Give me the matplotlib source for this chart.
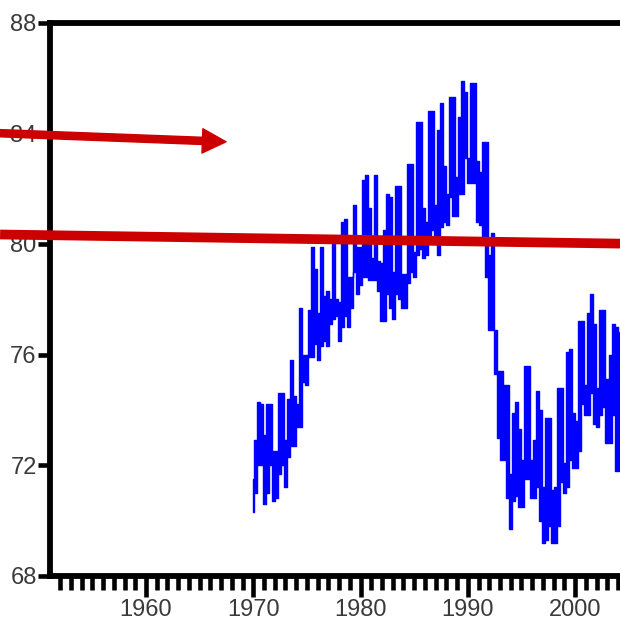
import numpy as np
import matplotlib.pyplot as plt

# level readings, one column every ~0.28 yr starting late 1969
t_start = 1969.93
t_step = 0.28

level_hi = [
    71.5, 72.9, 74.3, 74.2, 73.1, 74.2, 74.2, 72.5, 72.5, 74.6, 74.6, 72.9,
    74.4, 75.8, 74.5, 74.2, 77.7, 76.0, 76.0, 77.6, 79.9, 79.1, 77.5, 79.9,
    78.1, 78.3, 78.0, 80.1, 78.0, 77.9, 80.8, 80.9, 78.8, 78.8, 81.4, 79.9,
    79.9, 82.3, 82.5, 81.3, 79.5, 82.5, 79.4, 79.3, 80.5, 81.8, 81.7, 79.0,
    82.1, 82.1, 78.9, 78.9, 82.9, 82.9, 79.7, 84.4, 84.4, 81.3, 80.8, 84.8,
    84.8, 81.4, 84.1, 85.1, 82.8, 81.8, 85.3, 85.3, 82.4, 84.6, 85.9, 85.5,
    83.1, 85.8, 85.8, 83.0, 82.6, 83.7, 83.7, 79.6, 80.4, 76.9, 75.4, 75.4,
    74.9, 74.9, 71.7, 73.9, 74.3, 73.3, 72.2, 75.6, 75.6, 72.2, 72.9, 74.7,
    74.0, 71.2, 73.7, 73.7, 71.1, 71.2, 74.8, 74.8, 72.1, 76.1, 76.2, 73.9,
    73.6, 77.2, 77.2, 74.9, 77.5, 78.2, 77.1, 74.8, 77.6, 77.6, 75.1, 76.0,
    77.1, 77.0, 76.8,
]
level_lo = [
    70.3, 71.0, 72.0, 72.0, 70.6, 71.0, 72.0, 70.7, 70.8, 71.7, 72.0, 71.2,
    72.3, 72.7, 72.7, 73.4, 73.4, 75.0, 74.9, 75.9, 75.9, 76.4, 75.8, 76.3,
    76.5, 76.3, 77.1, 77.3, 77.4, 76.5, 77.0, 77.4, 77.0, 77.7, 79.0, 78.2,
    78.5, 78.8, 78.8, 78.7, 78.7, 78.7, 78.3, 77.2, 77.2, 78.2, 77.7, 77.3,
    78.2, 78.0, 77.7, 77.7, 78.6, 79.0, 78.8, 79.6, 79.8, 79.5, 79.6, 80.3,
    80.5, 80.1, 79.6, 80.6, 80.8, 80.7, 81.7, 81.0, 81.0, 81.8, 81.8, 83.1,
    82.2, 82.2, 82.2, 80.8, 80.7, 80.3, 78.8, 76.9, 76.9, 75.3, 73.0, 72.2,
    72.2, 70.8, 69.7, 70.7, 70.9, 70.5, 70.5, 71.5, 71.5, 70.8, 70.8, 71.2,
    70.0, 69.2, 69.3, 69.8, 69.2, 69.2, 69.8, 71.4, 71.0, 71.2, 72.2, 71.9,
    71.9, 72.5, 74.2, 73.8, 73.8, 74.6, 73.5, 73.4, 73.8, 74.1, 72.8, 72.8,
    73.8, 71.8, 71.8,
]

# hand-drawn red trend line and arrow (start/end points)
trend_x = [1946.4, 2006.0]
trend_y = [80.34, 80.0]
arrow_x = [1946.4, 1967.46]
arrow_y = [84.0, 83.69]

y_ticks = [68, 72, 76, 80, 84, 88]
x_ticks = [1960, 1970, 1980, 1990, 2000]
minor_years = list(range(1952, 2006))

years = t_start + t_step * np.arange(len(level_hi))

label_font = ['Liberation Sans Narrow', 'Liberation Sans', 'DejaVu Sans']

fig = plt.figure(figsize=(6.2, 6.22), dpi=100)
ax = fig.add_axes([0.0806, 0.074, 0.95, 0.8898])

ax.fill_between(years, level_lo, level_hi, step='mid', facecolor='#0000ff',
                edgecolor='#0000ff', linewidth=1.0)

ax.plot(trend_x, trend_y, color='#cc0000', lw=7, clip_on=False,
        solid_capstyle='butt', zorder=5)
ax.annotate('', xy=(arrow_x[1], arrow_y[1]), xytext=(arrow_x[0], arrow_y[0]),
            annotation_clip=False,
            arrowprops=dict(arrowstyle='simple,head_length=1.7,head_width=1.75,tail_width=0.52',
                            mutation_scale=10, color='#cc0000', shrinkA=0, shrinkB=0))

ax.set_xlim(1951.05, 2005.95)
ax.set_ylim(68, 88)
ax.set_yticks(y_ticks)
ax.set_yticklabels([str(v) for v in y_ticks])
ax.set_xticks(x_ticks)
ax.set_xticklabels([str(v) for v in x_ticks])
ax.set_xticks(minor_years, minor=True)

for s in ax.spines.values():
    s.set_linewidth(4.2)
ax.tick_params(axis='x', which='major', length=15, width=3.3, pad=1.5, labelsize=17,
               labelcolor='#3a3a3a')
ax.tick_params(axis='x', which='minor', length=10, width=3.3)
ax.tick_params(axis='y', which='major', length=8.6, width=3.3, pad=1, labelsize=17,
               labelcolor='#3a3a3a')
for lab in ax.get_xticklabels() + ax.get_yticklabels():
    lab.set_family(label_font)

fig.savefig('out.png', dpi=100, facecolor='white')
